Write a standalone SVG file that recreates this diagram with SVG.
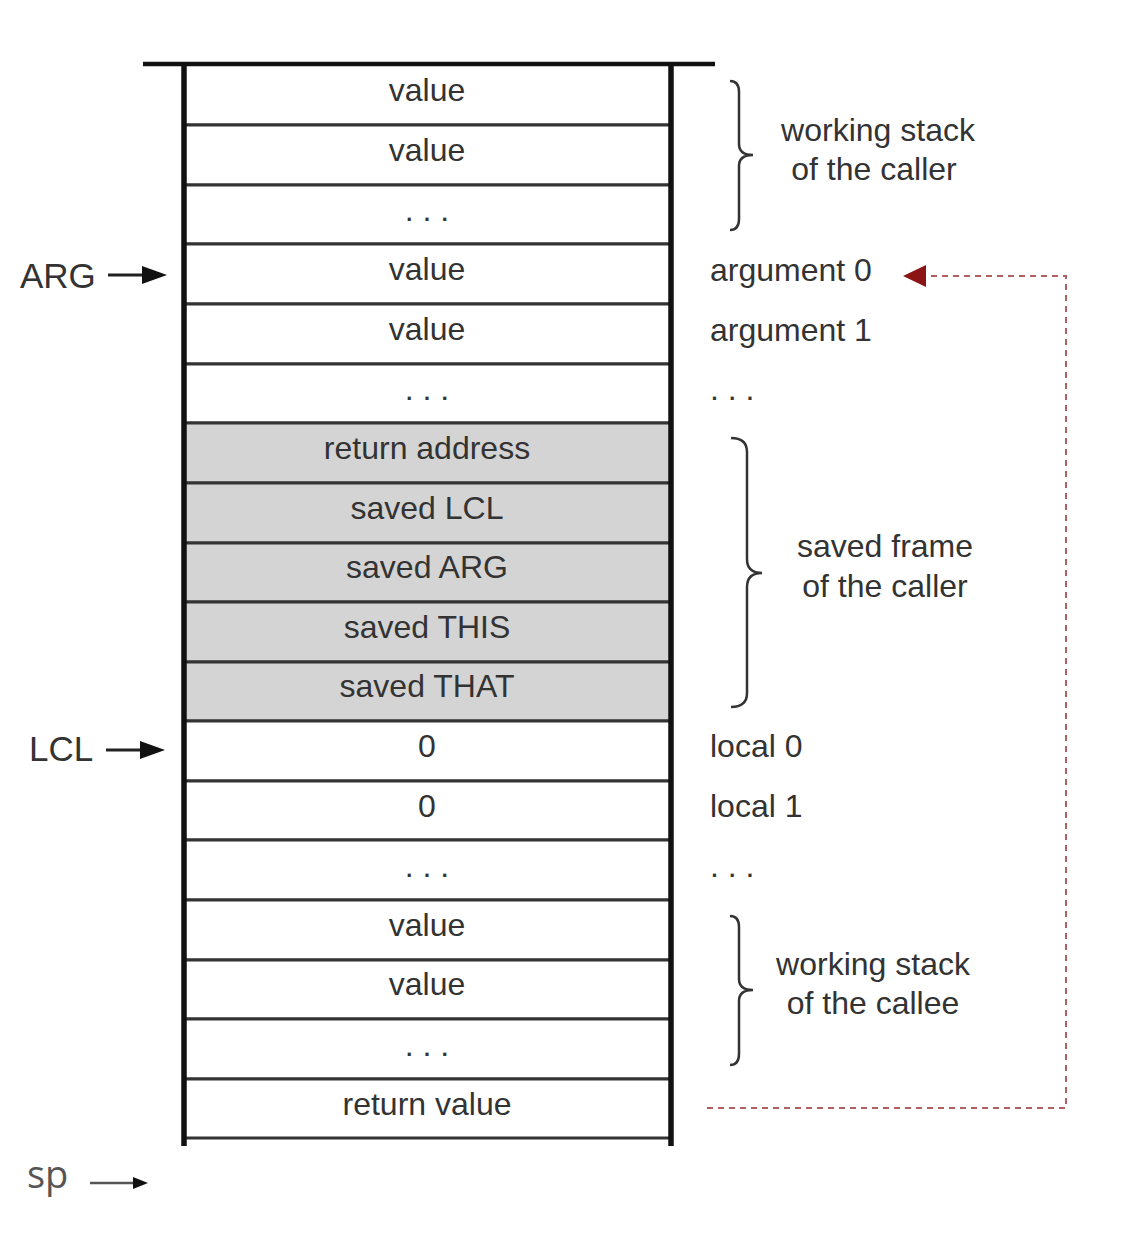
<svg xmlns="http://www.w3.org/2000/svg" width="1122" height="1236" viewBox="0 0 1122 1236">
<style>
.t{font-family:"Liberation Sans",Arial,sans-serif;font-size:32px;fill:#333;}
.c{text-anchor:middle;}
.p{font-family:"Liberation Sans",Arial,sans-serif;font-size:35px;fill:#333;}
.row{fill:#fff;stroke:#333;stroke-width:3;}
.g{fill:#d4d4d4;}
.br{fill:none;stroke:#333;stroke-width:2.5;}
.ptr{stroke:#222;stroke-width:3;}
.head{fill:#111;}
</style>
<rect width="1122" height="1236" fill="#fff"/>
<g id="stack">
<g id="r1"><rect class="row" x="184" y="64" width="487" height="61"/><text class="t c" x="427" y="101">value</text></g>
<g id="r2"><rect class="row" x="184" y="125" width="487" height="60"/><text class="t c" x="427" y="161">value</text></g>
<g id="r3"><rect class="row" x="184" y="185" width="487" height="59"/><text class="t c" x="427" y="221">. . .</text></g>
<g id="r4"><rect class="row" x="184" y="244" width="487" height="60"/><text class="t c" x="427" y="280">value</text></g>
<g id="r5"><rect class="row" x="184" y="304" width="487" height="60"/><text class="t c" x="427" y="340">value</text></g>
<g id="r6"><rect class="row" x="184" y="364" width="487" height="59"/><text class="t c" x="427" y="400">. . .</text></g>
<g id="r7"><rect class="row g" x="184" y="423" width="487" height="60"/><text class="t c" x="427" y="459">return address</text></g>
<g id="r8"><rect class="row g" x="184" y="483" width="487" height="60"/><text class="t c" x="427" y="519">saved LCL</text></g>
<g id="r9"><rect class="row g" x="184" y="543" width="487" height="59"/><text class="t c" x="427" y="578">saved ARG</text></g>
<g id="r10"><rect class="row g" x="184" y="602" width="487" height="60"/><text class="t c" x="427" y="638">saved THIS</text></g>
<g id="r11"><rect class="row g" x="184" y="662" width="487" height="59"/><text class="t c" x="427" y="697">saved THAT</text></g>
<g id="r12"><rect class="row" x="184" y="721" width="487" height="60"/><text class="t c" x="427" y="757">0</text></g>
<g id="r13"><rect class="row" x="184" y="781" width="487" height="59"/><text class="t c" x="427" y="817">0</text></g>
<g id="r14"><rect class="row" x="184" y="840" width="487" height="60"/><text class="t c" x="427" y="877">. . .</text></g>
<g id="r15"><rect class="row" x="184" y="900" width="487" height="60"/><text class="t c" x="427" y="936">value</text></g>
<g id="r16"><rect class="row" x="184" y="960" width="487" height="59"/><text class="t c" x="427" y="995">value</text></g>
<g id="r17"><rect class="row" x="184" y="1019" width="487" height="60"/><text class="t c" x="427" y="1056">. . .</text></g>
<g id="r18"><rect class="row" x="184" y="1079" width="487" height="59"/><text class="t c" x="427" y="1115">return value</text></g>
<line x1="143" y1="64" x2="715" y2="64" stroke="#111" stroke-width="4.5"/>
<line x1="184" y1="62" x2="184" y2="1146" stroke="#111" stroke-width="5.5"/>
<line x1="671" y1="62" x2="671" y2="1146" stroke="#111" stroke-width="5.5"/>
</g>
<g id="labels">
<text class="t" x="710" y="281">argument 0</text>
<text class="t" x="710" y="341">argument 1</text>
<text class="t" x="710" y="400">. . .</text>
<text class="t" x="710" y="757">local 0</text>
<text class="t" x="710" y="817">local 1</text>
<text class="t" x="710" y="877">. . .</text>
</g>
<g id="brace-caller">
<path class="br" d="M730,81 Q739,81 739,92 L739,144 Q739,155 753,155 Q739,155 739,166 L739,219 Q739,230 730,230"/>
<text class="t c" x="878" y="141">working stack</text>
<text class="t c" x="874" y="180">of the caller</text>
</g>
<g id="brace-frame">
<path class="br" d="M731,438 Q747,438 747,452 L747,559 Q747,573 762,573 Q747,573 747,587 L747,693 Q747,707 731,707"/>
<text class="t c" x="885" y="557">saved frame</text>
<text class="t c" x="885" y="597">of the caller</text>
</g>
<g id="brace-callee">
<path class="br" d="M730,916 Q739,916 739,927 L739,979 Q739,990 753,990 Q739,990 739,1001 L739,1054 Q739,1065 730,1065"/>
<text class="t c" x="873" y="975">working stack</text>
<text class="t c" x="873" y="1014">of the callee</text>
</g>
<g id="pointers">
<g id="arg"><text class="p" x="20" y="288">ARG</text><line class="ptr" x1="108" y1="275" x2="146" y2="275"/><path class="head" d="M167,275 L142,266 L142,284 z"/></g>
<g id="lcl"><text class="p" x="29" y="761">LCL</text><line class="ptr" x1="106" y1="750" x2="144" y2="750"/><path class="head" d="M165,750 L140,741 L140,759 z"/></g>
<g id="sp"><text x="27" y="1188" font-family="'Open Sans',sans-serif" font-size="38" fill="#555">sp</text><line x1="90" y1="1183" x2="136" y2="1183" stroke="#555" stroke-width="2.5"/><path class="head" d="M148,1183 L133,1177 L133,1189 z"/></g>
</g>
<g id="connectors">
<polyline points="707,1108 1066,1108 1066,276 925,276" fill="none" stroke="#b06060" stroke-width="2" stroke-dasharray="6,5"/>
<path d="M903,276 L926,265 L926,287 z" fill="#8b1515"/>
</g>
</svg>
